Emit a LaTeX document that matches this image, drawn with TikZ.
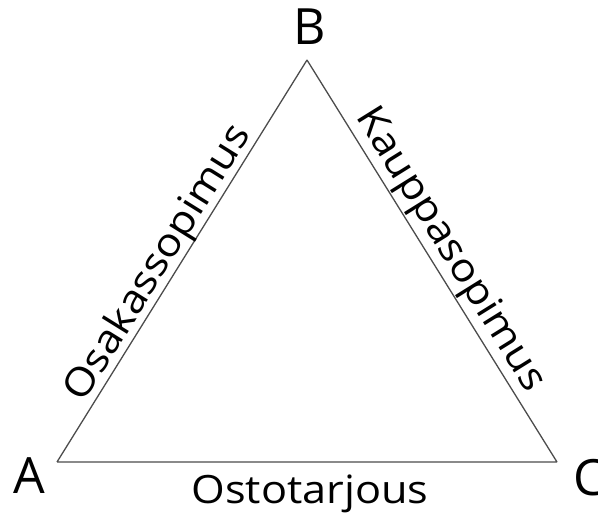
\documentclass[tikz,border=0pt]{standalone}
\usepackage{fontspec}
\setmainfont{Open Sans}
\newfontfamily\lblfont[FakeStretch=1.11]{Open Sans}
\begin{document}
\begin{tikzpicture}[x=1pt,y=-1pt,
  edge/.style={draw=black!70, line width=1.3pt, line join=miter},
  vlabel/.style={inner sep=0pt, font=\fontsize{50}{60}\selectfont},
  lbl/.style={inner sep=0pt, font=\lblfont\fontsize{39}{46}\selectfont},
  elabel/.style={lbl, text depth=0pt, anchor=south, sloped}]
\useasboundingbox (0,0) rectangle (598,522);
\coordinate (A) at (57,462);
\coordinate (B) at (307,60);
\coordinate (C) at (557,462);
\draw[edge] (A) -- (B) node[elabel, outer sep=8pt, pos=0.47] (ab) {Osakassopimus}
  (B) -- (C) node[elabel, outer sep=11pt, pos=0.5] (bc) {Kauppasopimus}
  (C) -- (A) -- cycle;
\node[vlabel, anchor=base] (la) at (29,493) {A};
\node[vlabel, anchor=base] (lb) at (310,45) {B};
\node[vlabel, anchor=base west] (lc) at (573,495) {C};
\node[lbl, anchor=base] (ac) at (310,503) {Ostotarjous};
\end{tikzpicture}
\end{document}
